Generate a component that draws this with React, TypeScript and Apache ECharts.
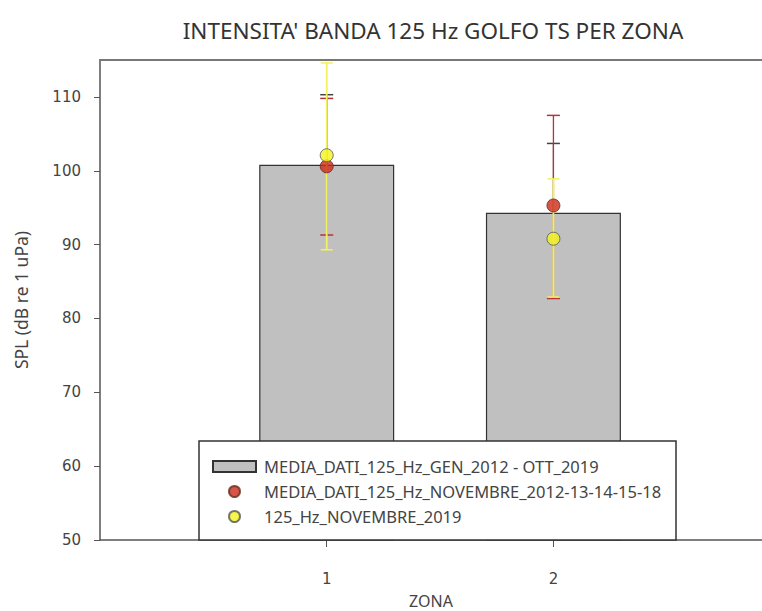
import React, { useEffect, useRef } from "react";
import * as echarts from "echarts";

const zones = [1, 2];
const barMean = [100.8, 94.3];
const barUpper = [110.3, 103.7];
const redMean = [100.6, 95.3];
const redLow = [91.3, 82.7];
const redHigh = [109.8, 107.5];
const yellowMean = [102.1, 90.8];
const yellowLow = [89.3, 82.9];
const yellowHigh = [114.6, 98.9];
const yTicks = [50, 60, 70, 80, 90, 100, 110];
const xTicks = [1, 2];

const NAME_BAR = "MEDIA_DATI_125_Hz_GEN_2012 - OTT_2019";
const NAME_RED = "MEDIA_DATI_125_Hz_NOVEMBRE_2012-13-14-15-18";
const NAME_YEL = "125_Hz_NOVEMBRE_2019";

function errRender(color: string, width: number, cap: number, showLow: boolean) {
  return (params: any, api: any) => {
    const x = api.value(0);
    const lo = api.coord([x, api.value(1)]);
    const hi = api.coord([x, api.value(2)]);
    const children: any[] = [
      { type: "line", shape: { x1: lo[0], y1: lo[1], x2: hi[0], y2: hi[1] }, style: { stroke: color, lineWidth: width } },
      { type: "line", shape: { x1: hi[0] - cap / 2, y1: hi[1], x2: hi[0] + cap / 2, y2: hi[1] }, style: { stroke: color, lineWidth: 1.5 } },
    ];
    if (showLow) {
      children.push({ type: "line", shape: { x1: lo[0] - cap / 2, y1: lo[1], x2: lo[0] + cap / 2, y2: lo[1] }, style: { stroke: color, lineWidth: 1.5 } });
    }
    return { type: "group", children };
  };
}

export default function App() {
  const ref = useRef<HTMLDivElement>(null);
  useEffect(() => {
    const chart = echarts.init(ref.current!, undefined, { renderer: "svg" });
    const axisColor = "#555";
    chart.setOption({
      animation: false,
      backgroundColor: "#fff",
      title: {
        text: "INTENSITA' BANDA 125 Hz GOLFO TS PER ZONA",
        left: 428,
        top: 14,
        textAlign: "center",
        textStyle: { fontFamily: "Noto Sans", fontSize: 22.5, fontWeight: "normal", color: "#333" },
      },
      grid: { left: 100, right: 0, top: 60, bottom: 71, outerBoundsMode: "none", containLabel: false },
      xAxis: [
        {
          type: "value",
          min: 0,
          max: 2.92,
          interval: 1,
          name: "ZONA",
          nameLocation: "middle",
          nameGap: 53,
          nameTextStyle: { fontFamily: "Noto Sans", fontSize: 16, color: "#444" },
          axisLine: { show: true, lineStyle: { color: axisColor, width: 1.5 } },
          axisTick: { show: true, length: 7, customValues: xTicks, lineStyle: { color: axisColor } },
          axisLabel: { customValues: xTicks, margin: 31, fontFamily: "DejaVu Sans", fontSize: 15, color: "#444" },
          splitLine: { show: false },
        },
        {
          type: "value",
          position: "top",
          min: 0,
          max: 2.92,
          axisLine: { show: true, lineStyle: { color: "#777", width: 2 } },
          axisTick: { show: false },
          axisLabel: { show: false },
          splitLine: { show: false },
        },
      ],
      yAxis: {
        type: "value",
        min: 50,
        max: 115,
        interval: 10,
        name: "SPL (dB re 1 uPa)",
        nameLocation: "middle",
        nameGap: 70,
        nameTextStyle: { fontFamily: "Noto Sans", fontSize: 17.5, color: "#444" },
        axisLine: { show: true, lineStyle: { color: axisColor, width: 1.5 } },
        axisTick: { show: true, length: 6, customValues: yTicks, lineStyle: { color: axisColor } },
        axisLabel: { customValues: yTicks, margin: 19, fontFamily: "DejaVu Sans", fontSize: 15, color: "#444" },
        splitLine: { show: false },
      },
      legend: {
        orient: "vertical",
        left: 199,
        top: 441,
        padding: [17, 0, 0, 13],
        itemWidth: 43,
        itemHeight: 11,
        itemGap: 8,
        z: 10,
        textStyle: { fontFamily: "Noto Sans", fontSize: 16.5, color: "#444", lineHeight: 16, padding: [0, 0, 0, 3] },
        data: [
          { name: NAME_BAR, icon: "rect" },
          { name: NAME_RED, icon: "circle" },
          { name: NAME_YEL, icon: "circle" },
        ],
      },
      graphic: [
        {
          type: "rect",
          z: 9,
          shape: { x: 199, y: 441, width: 477, height: 99 },
          style: { fill: "#fff", stroke: "#333", lineWidth: 1.5 },
        },
      ],
      series: [
        {
          name: NAME_BAR,
          type: "bar",
          barWidth: 135,
          z: 2,
          itemStyle: { color: "#c0c0c0", borderColor: "#333", borderWidth: 1.2 },
          data: zones.map((z, i) => [z, barMean[i]]),
        },
        {
          name: "barErr",
          type: "custom",
          z: 3,
          renderItem: errRender("#444", 1.2, 13, false),
          data: zones.map((z, i) => [z, barMean[i], barUpper[i]]),
        },
        {
          name: "redErr",
          type: "custom",
          z: 4,
          renderItem: errRender("#b8323a", 1.3, 13, true),
          data: zones.map((z, i) => [z, redLow[i], redHigh[i]]),
        },
        {
          name: "yelErr",
          type: "custom",
          z: 5,
          renderItem: errRender("#f2f25a", 1.8, 12, true),
          data: zones.map((z, i) => [z, yellowLow[i], yellowHigh[i]]),
        },
        {
          name: NAME_RED,
          type: "scatter",
          z: 6,
          symbol: "circle",
          symbolSize: 13,
          itemStyle: { color: "#cc2a1a", borderColor: "#6a2a1a", borderWidth: 1 },
          data: zones.map((z, i) => [z, redMean[i]]),
        },
        {
          name: NAME_YEL,
          type: "scatter",
          z: 7,
          symbol: "circle",
          symbolSize: 13,
          itemStyle: { color: "#f2f21e", borderColor: "#555", borderWidth: 1 },
          data: zones.map((z, i) => [z, yellowMean[i]]),
        },
      ],
    });
    return () => chart.dispose();
  }, []);
  return <div ref={ref} style={{ position: "absolute", left: 0, top: 0, width: 762, height: 611 }} />;
}
